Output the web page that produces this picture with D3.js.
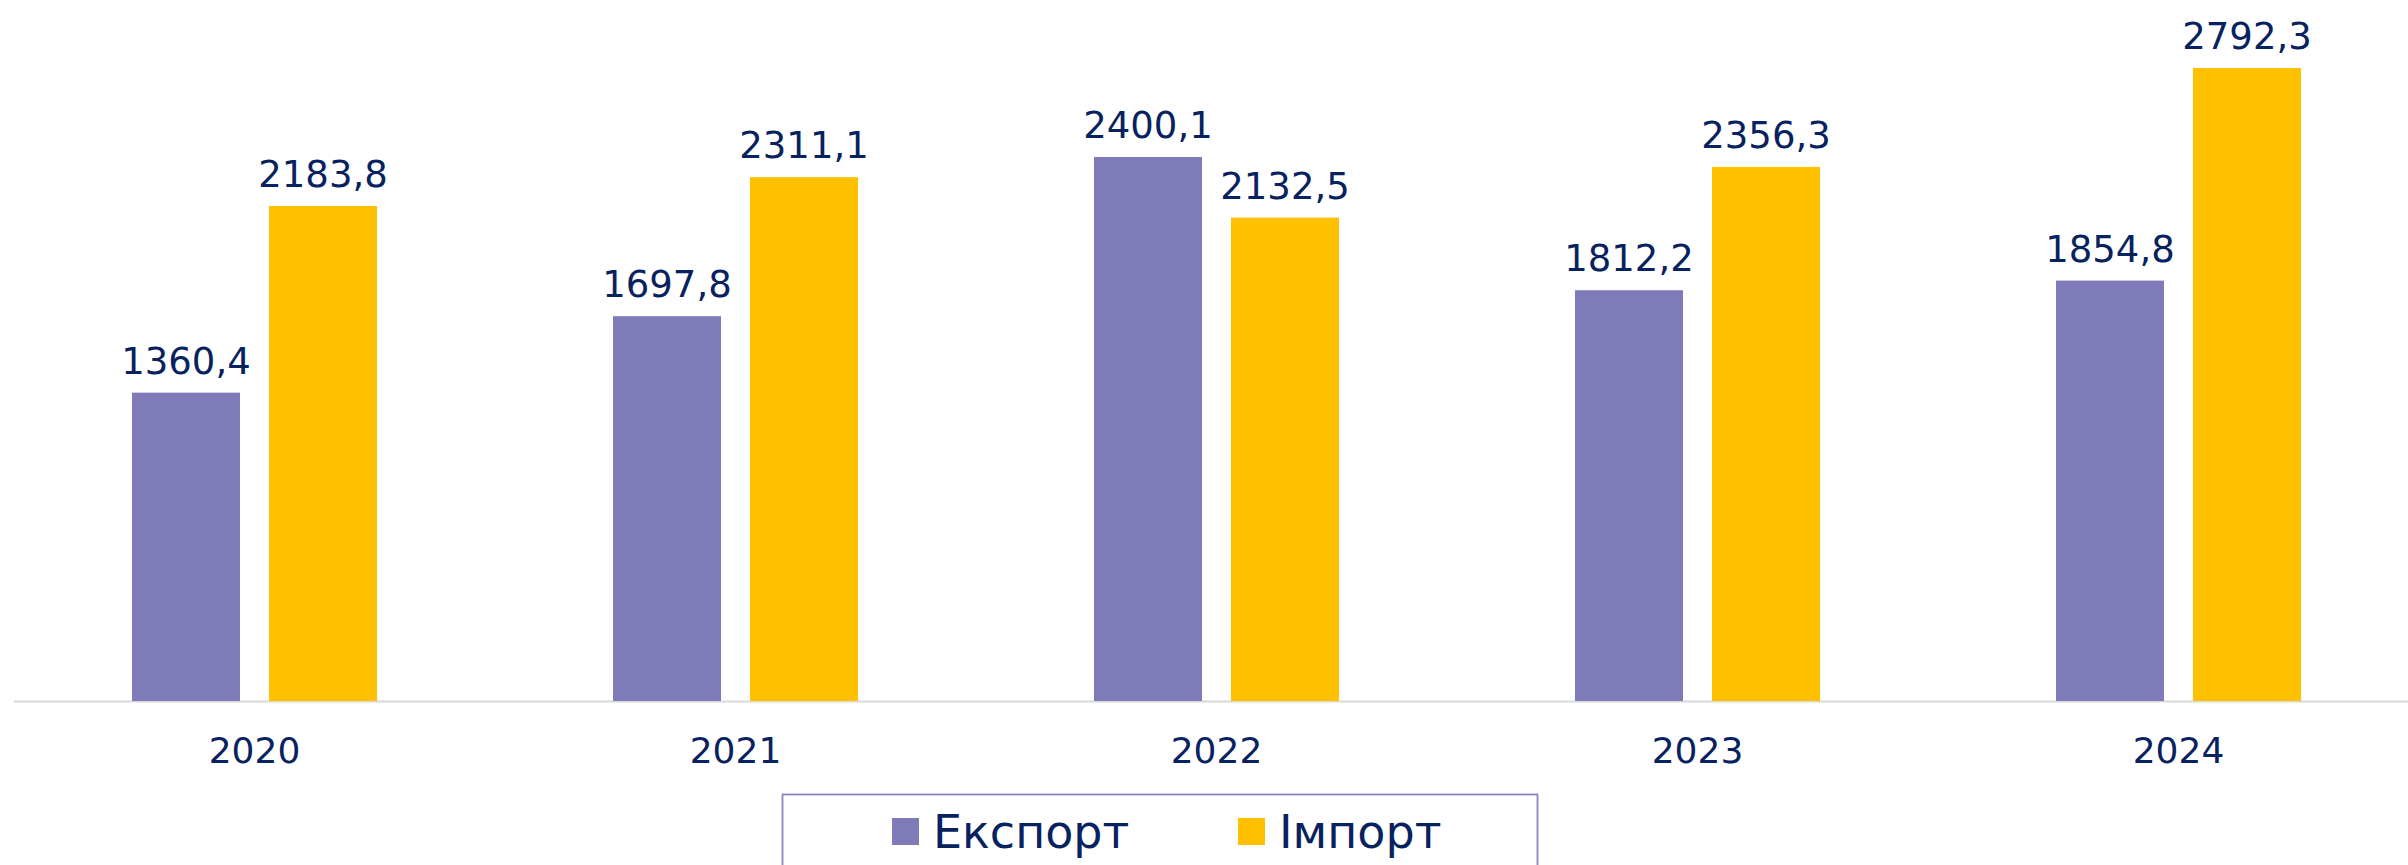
<!DOCTYPE html>
<html>
<head>
<meta charset="utf-8">
<script src="https://cdn.jsdelivr.net/npm/d3@7"></script>
<style>
  html, body { margin: 0; padding: 0; background: #fff; overflow: hidden; }
  text { font-family: "DejaVu Sans", Verdana, sans-serif; fill: #082260; }
</style>
</head>
<body>
<svg id="chart"></svg>
<script>
// years on the x axis
const years = ['2020', '2021', '2022', '2023', '2024'];
const seriesNames = ['Експорт', 'Імпорт'];
const exportValues = [1360.4, 1697.8, 2400.1, 1812.2, 1854.8];
const importValues = [2183.8, 2311.1, 2132.5, 2356.3, 2792.3];
const seriesColors = ['#7f7bb9', '#ffc000'];

const width = 2408, height = 865;
const svg = d3.select('#chart').attr('width', width).attr('height', height);

// table for the grouped bars
const rows = years.map((y, i) => ({ year: y, values: [exportValues[i], importValues[i]] }));

const x0 = d3.scaleBand()
    .domain(years)
    .range([14, 2419])
    .padding(0);

// bars 108 wide, 29 gap inside each 481 band
const x1 = d3.scaleBand()
    .domain(seriesNames)
    .range([0, x0.bandwidth()])
    .paddingInner(29 / 137)
    .paddingOuter(0.861);

const y = d3.scaleLinear()
    .domain([0, 3000])
    .range([701, 21]);

const fmt = v => d3.format('.1f')(v).replace('.', ',');

// baseline
svg.append('line')
    .attr('x1', 14).attr('x2', width)
    .attr('y1', y(0) + 0.5).attr('y2', y(0) + 0.5)
    .attr('stroke', '#d9d9d9')
    .attr('stroke-width', 2);

const groups = svg.selectAll('.year-group')
    .data(rows)
    .join('g')
    .attr('class', 'year-group')
    .attr('transform', d => `translate(${x0(d.year)},0)`);

const cells = groups.selectAll('.cell')
    .data(d => d.values.map((v, i) => ({ name: seriesNames[i], value: v, idx: i })))
    .join('g')
    .attr('class', 'cell');

cells.append('rect')
    .attr('x', d => x1(d.name))
    .attr('y', d => y(d.value))
    .attr('width', x1.bandwidth())
    .attr('height', d => y(0) - y(d.value))
    .attr('fill', d => seriesColors[d.idx]);

cells.append('text')
    .attr('x', d => x1(d.name) + x1.bandwidth() / 2)
    .attr('y', d => y(d.value) - 19)
    .attr('text-anchor', 'middle')
    .style('font-size', '37px')
    .text(d => fmt(d.value));

// x axis labels
const xAxis = d3.axisBottom(x0).tickSize(0).tickPadding(0);
const axisG = svg.append('g')
    .attr('transform', `translate(0,${y(0)})`)
    .call(xAxis);
axisG.select('.domain').remove();
axisG.selectAll('text')
    .attr('dy', null)
    .attr('y', 62)
    .style('font-size', '36px')
    .style('font-family', '"DejaVu Sans", Verdana, sans-serif')
    .attr('fill', '#082260');

// legend
const legend = svg.append('g');
legend.append('rect')
    .attr('x', 782.5).attr('y', 794.5)
    .attr('width', 755).attr('height', 100)
    .attr('fill', 'none')
    .attr('stroke', '#8885c2')
    .attr('stroke-width', 1.8);

const legendX = [892, 1238];
const items = legend.selectAll('.leg-item')
    .data(seriesNames)
    .join('g')
    .attr('class', 'leg-item')
    .attr('transform', (d, i) => `translate(${legendX[i]},818)`);

items.append('rect')
    .attr('width', 27).attr('height', 27)
    .attr('fill', (d, i) => seriesColors[i]);

items.append('text')
    .attr('x', 41)
    .attr('y', 30)
    .style('font-size', '46px')
    .text(d => d);
</script>
</body>
</html>
